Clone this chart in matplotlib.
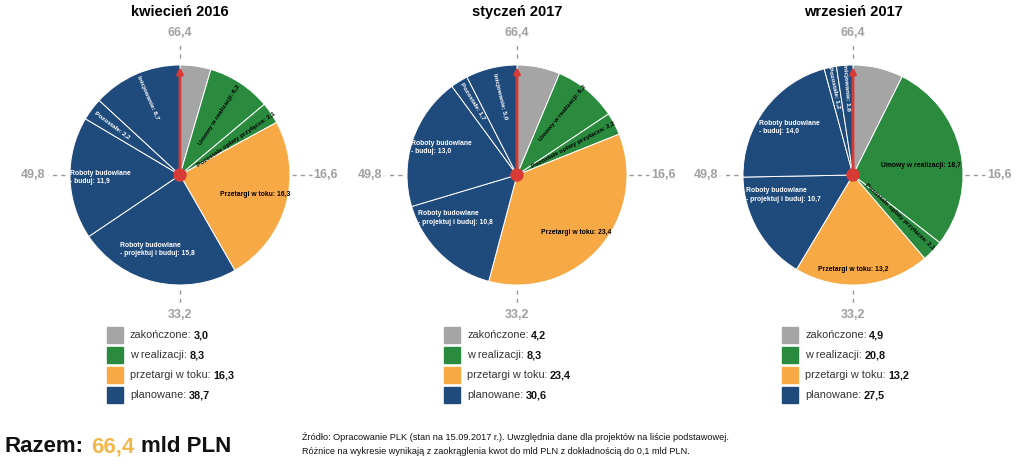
import matplotlib
matplotlib.use('Agg')
import matplotlib.pyplot as plt
import numpy as np
from matplotlib.patches import Circle, Rectangle

# values in mld PLN
months = ['kwiecień 2016', 'styczeń 2017', 'wrzesień 2017']
zakonczone = [3.0, 4.2, 4.9]
umowy = [6.2, 6.2, 18.7]
oplaty = [2.1, 2.2, 2.1]
przetargi = [16.3, 23.4, 13.2]
proj_buduj = [15.8, 10.8, 10.7]
buduj = [11.9, 13.0, 14.0]
pozostale = [2.2, 1.7, 1.2]
inicjowanie = [8.7, 5.0, 1.6]

w_realizacji = [8.3, 8.3, 20.8]
planowane = [38.7, 30.6, 27.5]
razem = 66.4
axis_labels = ['66,4', '16,6', '33,2', '49,8']

legend_names = ['zakończone', 'w realizacji', 'przetargi w toku', 'planowane']

GRAY = '#a5a5a5'
GREEN = '#2a8b3f'
ORANGE = '#f6a944'
NAVY = '#1f4a7c'
RED = '#d83a35'
slice_colors = [GRAY, GREEN, GREEN, ORANGE, NAVY, NAVY, NAVY, NAVY]

# label placement per slice: (radius fraction, angle nudge, rotated)
label_pos = [
    [None, (0.65, 0, True), (0.61, 2, True), (0.71, -1, False), (0.71, 4, False),
     (0.72, 0, False), (0.77, 0, True), (0.76, 1, True)],
    [None, (0.70, -3, True), (0.58, 0, True), (0.75, 2.5, False), (0.68, 11, False),
     (0.73, 1.5, False), (0.78, 1, True), (0.73, 1, True)],
    [None, (0.62, 5, False), (0.57, -2, True), (0.86, 5, False), (0.66, 14, False),
     (0.72, 0, False), (0.81, 0, True), (0.80, 0, True)],
]


def fmt(v):
    return f"{v:.1f}".replace('.', ',')


W, H = 1024, 476
fig = plt.figure(figsize=(W / 100, H / 100), dpi=100)
ax = fig.add_axes([0, 0, 1, 1])

centers_x = [180, 517, 853]
cy = H - 175
R = 110

for i, cx in enumerate(centers_x):
    vals = [zakonczone[i], umowy[i], oplaty[i], przetargi[i],
            proj_buduj[i], buduj[i], pozostale[i], inicjowanie[i]]
    ax.pie(vals, colors=slice_colors, startangle=90, counterclock=False,
           radius=R, center=(cx, cy),
           wedgeprops=dict(edgecolor='white', linewidth=0.7))

    texts = [None,
             f"Umowy w realizacji: {fmt(umowy[i])}",
             f"Pozostałe opłaty przyłącza: {fmt(oplaty[i])}",
             f"Przetargi w toku: {fmt(przetargi[i])}",
             f"Roboty budowlane\n- projektuj i buduj: {fmt(proj_buduj[i])}",
             f"Roboty budowlane\n- buduj: {fmt(buduj[i])}",
             f"Pozostałe: {fmt(pozostale[i])}",
             f"Inicjowanie: {fmt(inicjowanie[i])}"]
    total = sum(vals)
    cum = 0
    for j, v in enumerate(vals):
        mid = 360 * (cum + v / 2) / total
        cum += v
        if label_pos[i][j] is None:
            continue
        rf, dth, rotated = label_pos[i][j]
        a = np.deg2rad(90 - (mid + dth))
        x = cx + rf * R * np.cos(a)
        y = cy + rf * R * np.sin(a)
        rot = 0
        if rotated:
            rot = (90 - mid) % 360
            if rot > 90:
                rot -= 180
            if rot > 90:
                rot -= 180
        col = 'white' if slice_colors[j] == NAVY else 'black'
        ax.text(x, y, texts[j], ha='center', va='center', multialignment='left',
                rotation=rot, rotation_mode='anchor', fontsize=4.6 if rotated else 4.9,
                fontweight='bold', color=col, family='Liberation Sans', linespacing=1.3)

    # red pointer and hub
    ax.annotate('', xy=(cx, cy + R - 2), xytext=(cx, cy),
                arrowprops=dict(arrowstyle='-|>', color=RED, lw=2, mutation_scale=9,
                                shrinkA=0, shrinkB=0))
    ax.add_patch(Circle((cx, cy), 6, color=RED, zorder=5))

    # scale marks around the pie
    dash = dict(color='#9a9a9a', lw=1, ls=(0, (3, 3)))
    ax.plot([cx, cx], [cy + R + 7, cy + R + 22], **dash)
    ax.plot([cx + R + 2, cx + R + 22], [cy, cy], **dash)
    ax.plot([cx, cx], [cy - R - 5, cy - R - 20], **dash)
    ax.plot([cx - R - 5, cx - R - 22], [cy, cy], **dash)
    lab = dict(color='#a0a0a0', fontsize=9, fontweight='bold', ha='center', va='center',
               family='Liberation Sans')
    ax.text(cx, cy + R + 32, axis_labels[0], **lab)
    ax.text(cx + R + 36, cy, axis_labels[1], **lab)
    ax.text(cx, cy - R - 30, axis_labels[2], **lab)
    ax.text(cx - R - 37, cy, axis_labels[3], **lab)

    ax.text(cx, H - 12, months[i], ha='center', va='center', fontsize=10.5,
            fontweight='bold', family='Liberation Sans')

    # legend
    leg_vals = [zakonczone[i], w_realizacji[i], przetargi[i], planowane[i]]
    leg_cols = [GRAY, GREEN, ORANGE, NAVY]
    lx = cx - 73 if i < 2 else cx - 71
    for k in range(4):
        ly = H - (335 + 20 * k)
        ax.add_patch(Rectangle((lx, ly - 8), 16, 16, color=leg_cols[k]))
        t = ax.text(lx + 23, ly, f"{legend_names[k]}:", ha='left', va='center',
                    fontsize=7.8, color='#333333', family='Liberation Sans')
        ax.annotate(fmt(leg_vals[k]), xycoords=t, xy=(1, 0.5), xytext=(2.5, 0),
                    textcoords='offset pixels', va='center',
                    ha='left', fontsize=7.8, fontweight='bold', color='#111111',
                    family='Liberation Sans')

# footer
big = dict(va='center', ha='left', fontsize=16, fontweight='bold',
           family='Liberation Sans')
t1 = ax.text(5, H - 447, 'Razem:', color='#111111', **big)
t2 = ax.annotate(fmt(razem), xycoords=t1, xy=(1, 0.5), xytext=(7, 0),
                 textcoords='offset pixels', color='#f2b84b', **big)
ax.annotate('mld PLN', xycoords=t2, xy=(1, 0.5), xytext=(7, 0),
            textcoords='offset pixels', color='#111111', **big)
ax.text(302, H - 437, 'Źródło: Opracowanie PLK (stan na 15.09.2017 r.). '
        'Uwzględnia dane dla projektów na liście podstawowej.',
        ha='left', va='center', fontsize=6.55, family='Liberation Sans', color='#111111')
ax.text(302, H - 451, 'Różnice na wykresie wynikają z zaokrąglenia kwot do mld PLN '
        'z dokładnością do 0,1 mld PLN.',
        ha='left', va='center', fontsize=6.55, family='Liberation Sans', color='#111111')

ax.set_xlim(0, W)
ax.set_ylim(0, H)
ax.set_aspect('auto')
ax.axis('off')
fig.savefig('out.png', dpi=100)
